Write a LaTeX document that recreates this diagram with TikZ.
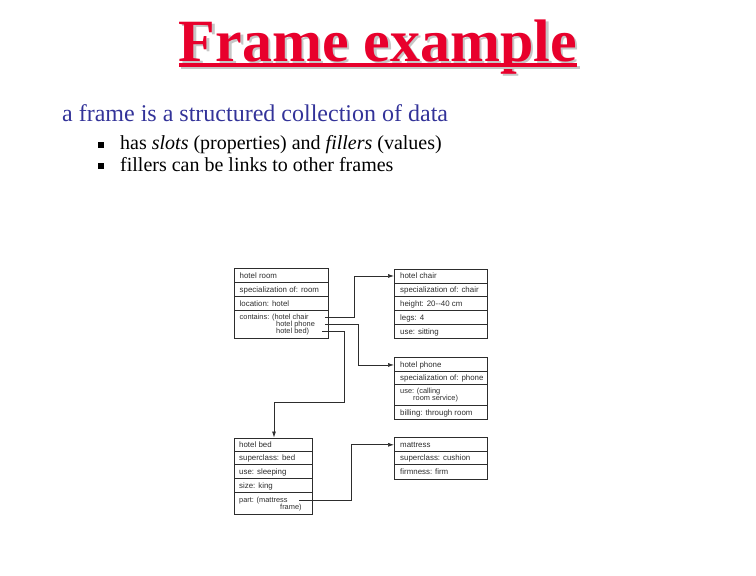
\documentclass[tikz,border=0pt]{standalone}
\usepackage{fontspec}
\setmainfont{Liberation Serif}
\newfontfamily\framefont{Liberation Sans}
\usetikzlibrary{arrows.meta,calc}
\definecolor{titlered}{RGB}{232,0,44}
\definecolor{subblue}{RGB}{51,51,153}
\definecolor{ink}{RGB}{45,45,45}
\newcommand\shadowtitle[1]{\makebox[0pt][l]{\hspace{2.5pt}\raisebox{-2.5pt}{\color{gray!45}#1}}#1}
\begin{document}
\begin{tikzpicture}[x=1pt,y=-1pt,
  frame/.style={draw=ink, line width=0.9pt, inner sep=0pt, anchor=north west},
  rowline/.style={draw=ink, line width=0.6pt},
  slot/.style={anchor=base west, inner sep=0pt, font=\framefont\fontsize{7.9}{9}\selectfont, text=ink},
  tightslot/.style={slot, font=\framefont\fontsize{7.4}{8}\selectfont},
  link/.style={draw=ink, line width=0.7pt, -{Latex[length=6pt,width=4pt]}},
  titletext/.style={anchor=base, inner sep=0pt, font=\bfseries\fontsize{60}{60}\selectfont},
]
\useasboundingbox (0,0) rectangle (756,576);

% ---------- title ----------
\node[titletext, text=titlered] (title) at (378,61) {\shadowtitle{Frame example}};
\fill[gray!45] ($(title.base west)+(2.5,4.8)$) rectangle ($(title.base east)+(2.5,8)$);
\fill[titlered] ($(title.base west)+(0,2.3)$) rectangle ($(title.base east)+(0,5.5)$);

% ---------- text ----------
\node[anchor=base west, inner sep=0pt, font=\fontsize{24}{24}\selectfont, text=subblue] (sub) at (62,121.7) {a frame is a structured collection of data};
\node[anchor=base west, inner sep=0pt, font=\fontsize{20}{20}\selectfont] (b1) at (120,149.3) {has \textit{slots} (properties) and \textit{fillers} (values)};
\node[anchor=base west, inner sep=0pt, font=\fontsize{20}{20}\selectfont] (b2) at (120,171) {fillers can be links to other frames};
\fill ($(b1.base west)+(-21.7,-7.6)$) rectangle ++(5.2,5.8);
\fill ($(b2.base west)+(-21.7,-7.6)$) rectangle ++(5.2,5.8);

% ---------- frame: hotel room ----------
\node[frame, minimum width=94pt, minimum height=69.5pt] (room) at (234,268) {};
\draw[rowline] (234,282.5) -- (328,282.5);
\draw[rowline] (234,296) -- (328,296);
\draw[rowline] (234,310) -- (328,310);
\node[slot] (r1) at (239.5,278.5) {hotel room};
\node[slot] (r2) at (239.5,292.5) {specialization of: room};
\node[slot] (r3) at (239.5,306) {location: hotel};
\node[tightslot] (r4) at (239.5,319.8) {contains: (hotel chair};
\node[tightslot] (r5) at (276,326.8) {hotel phone};
\node[tightslot] (r6) at (276,333.8) {hotel bed)};

% ---------- frame: hotel chair ----------
\node[frame, minimum width=93pt, minimum height=69pt] (chair) at (394,268.5) {};
\draw[rowline] (394,283) -- (487,283);
\draw[rowline] (394,296.5) -- (487,296.5);
\draw[rowline] (394,310.5) -- (487,310.5);
\draw[rowline] (394,324.5) -- (487,324.5);
\node[slot] (h1) at (400,278.8) {hotel chair};
\node[slot] (h2) at (400,292.8) {specialization of: chair};
\node[slot] (h3) at (400,306.5) {height: 20--40 cm};
\node[slot] (h4) at (400,320.5) {legs: 4};
\node[slot] (h5) at (400,334) {use: sitting};

% ---------- frame: hotel phone ----------
\node[frame, minimum width=93pt, minimum height=62pt] (phone) at (394,357) {};
\draw[rowline] (394,371) -- (487,371);
\draw[rowline] (394,384.5) -- (487,384.5);
\draw[rowline] (394,405) -- (487,405);
\node[slot] (p1) at (400,367) {hotel phone};
\node[slot] (p2) at (400,380.7) {specialization of: phone};
\node[tightslot] (p3) at (400,393) {use: (calling};
\node[tightslot] (p4) at (413,400.3) {room service)};
\node[slot] (p5) at (400,415) {billing: through room};

% ---------- frame: hotel bed ----------
\node[frame, minimum width=78pt, minimum height=76pt] (bed) at (234,437.5) {};
\draw[rowline] (234,451) -- (312,451);
\draw[rowline] (234,464.5) -- (312,464.5);
\draw[rowline] (234,478.5) -- (312,478.5);
\draw[rowline] (234,492) -- (312,492);
\node[slot] (e1) at (239,447.3) {hotel bed};
\node[slot] (e2) at (239,460.7) {superclass: bed};
\node[slot] (e3) at (239,474.5) {use: sleeping};
\node[slot] (e4) at (239,488.3) {size: king};
\node[tightslot] (e5) at (239,502.3) {part: (mattress};
\node[tightslot] (e6) at (280,509.6) {frame)};

% ---------- frame: mattress ----------
\node[frame, minimum width=93pt, minimum height=41.5pt] (mattress) at (394,437) {};
\draw[rowline] (394,451) -- (487,451);
\draw[rowline] (394,464.5) -- (487,464.5);
\node[slot] (m1) at (400,447.3) {mattress};
\node[slot] (m2) at (400,460.7) {superclass: cushion};
\node[slot] (m3) at (400,474.5) {firmness: firm};

% ---------- connectors ----------
\coordinate (c1) at (325,317.8);
\coordinate (c2) at (325,324.5);
\coordinate (c3) at (322,331.6);
\coordinate (c4) at (299,500.2);
\coordinate (chairin) at (chair.west |- h1.west);
\coordinate (phonein) at (phone.west |- p1.west);
\coordinate (bedin) at (274,437.5);
\coordinate (mattin) at (mattress.west |- m1.west);

\draw[link] (c1) -- ++(29,0) |- (chairin);
\draw[link] (c2) -- ++(33,0) |- (phonein);
\draw[link] (c3) -- ++(22,0) -- ++(0,71) -| (bedin);
\draw[link] (c4) -- ++(52,0) |- (mattin);
\end{tikzpicture}
\end{document}
